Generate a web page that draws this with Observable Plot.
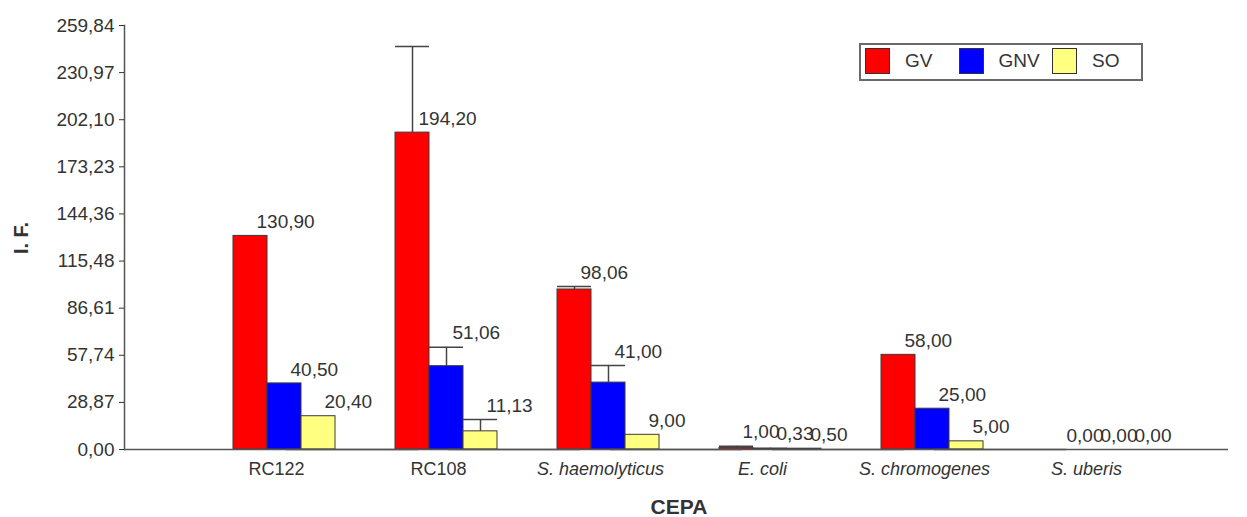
<!DOCTYPE html>
<html>
<head>
<meta charset="utf-8">
<script src="https://cdn.jsdelivr.net/npm/d3@7"></script>
<script src="https://cdn.jsdelivr.net/npm/@observablehq/plot@0.6"></script>
<style>
  html, body { margin: 0; padding: 0; background: #fff; }
  #wrap { position: relative; width: 1247px; height: 517px; font-family: "Liberation Sans", Arial, sans-serif; color: #333; }
  #wrap svg { position: absolute; left: 0; top: 0; }
  .ylab { position: absolute; left: 21px; top: 238px; transform: translate(-50%, -50%) rotate(-90deg); font-weight: bold; font-size: 20px; white-space: nowrap; }
  .xlab { position: absolute; left: 679px; top: 507px; transform: translate(-50%, -50%); font-weight: bold; font-size: 21px; }
  .legend { position: absolute; left: 859px; top: 43px; width: 280px; height: 34px; border: 2px solid #6a6a6a; background: #fff; }
  .legend .item { position: absolute; top: 2px; height: 28px; display: flex; align-items: center; font-size: 19px; }
  .legend .sw { width: 25px; height: 26px; border: 1px solid #333; box-sizing: border-box; margin-right: 15px; }
</style>
</head>
<body>
<div id="wrap"></div>
<script>
// ---- data ----
const categories = ["RC122", "RC108", "S. haemolyticus", "E. coli", "S. chromogenes", "S. uberis"];
const italicCategories = ["S. haemolyticus", "E. coli", "S. chromogenes", "S. uberis"];
const series = ["GV", "GNV", "SO"];
const seriesColors = ["#ff0000", "#0000ff", "#ffff80"];
const valuesGV  = [130.90, 194.20, 98.06, 1.00, 58.00, 0.00];
const valuesGNV = [40.50, 51.06, 41.00, 0.33, 25.00, 0.00];
const valuesSO  = [20.40, 11.13, 9.00, 0.50, 5.00, 0.00];
const errorGV  = [0, 52.8, 1.8, 1.0, 0, 0];
const errorGNV = [0, 11.6, 10.5, 0.5, 0, 0];
const errorSO  = [0, 7.3, 0, 0, 0, 0];
const yTickLabels = ["0,00", "28,87", "57,74", "86,61", "115,48", "144,36", "173,23", "202,10", "230,97", "259,84"];
const yMax = 259.84;

// ---- build table ----
const valueTable = [valuesGV, valuesGNV, valuesSO];
const errorTable = [errorGV, errorGNV, errorSO];
const rows = categories.flatMap((c, i) => series.map((s, k) => ({
  cat: c, series: s, value: valueTable[k][i], err: errorTable[k][i]
})));
const errRows = rows.filter(d => d.err > 0);
const tickValues = yTickLabels.map(t => +t.replace(",", "."));
const tickMap = new Map(tickValues.map((v, i) => [v, yTickLabels[i]]));
const fmt = v => d3.format(".2f")(v).replace(".", ",");

const font = "Liberation Sans, Arial, sans-serif";
const ink = "#333";
const axisInk = "#555";

const chart = Plot.plot({
  width: 1247,
  height: 517,
  marginLeft: 202,
  marginRight: 72,
  marginTop: 25,
  marginBottom: 68,
  style: { fontFamily: font, color: ink, background: "transparent" },
  fx: { domain: categories, padding: 0, axis: null },
  x: { domain: series, paddingInner: 0, paddingOuter: 0.85, axis: null },
  y: { domain: [0, yMax] },
  color: { domain: series, range: seriesColors },
  marks: [
    Plot.barY(rows, { fx: "cat", x: "series", y1: 0, y2: "value", fill: "series", stroke: "#3a3a3a", strokeWidth: 1 }),
    Plot.ruleY([0], { stroke: axisInk, strokeWidth: 1.5, insetLeft: -79, insetRight: -53 }),
    Plot.frame({ anchor: "left", facetAnchor: "left", insetLeft: -79, stroke: axisInk, strokeWidth: 1.5 }),
    Plot.axisY(tickValues, {
      tickFormat: d => tickMap.get(d), tickSize: 5, tickPadding: 5, dx: -79,
      fontSize: 19, color: ink, label: null
    }),
    Plot.ruleX(errRows, { fx: "cat", x: "series", y1: "value", y2: d => d.value + d.err, stroke: "#444", strokeWidth: 1.5 }),
    Plot.tickY(errRows, { fx: "cat", x: "series", y: d => d.value + d.err, stroke: "#444", strokeWidth: 1.5 }),
    Plot.text(rows, {
      fx: "cat", x: "series", y: d => d.value + (d.err <= 15 ? d.err : 0),
      text: d => fmt(d.value), textAnchor: "start", dx: 6, dy: -14, fontSize: 19, fill: ink
    }),
    Plot.text(categories.filter(c => !italicCategories.includes(c)), {
      fx: d => d, text: d => d, frameAnchor: "bottom", dy: 25, dx: -8, fontSize: 18, fill: ink
    }),
    Plot.text(italicCategories, {
      fx: d => d, text: d => d, frameAnchor: "bottom", dy: 25, dx: -8, fontSize: 18, fill: ink, fontStyle: "italic"
    })
  ]
});

const wrap = document.getElementById("wrap");
wrap.appendChild(chart);

const yl = document.createElement("div"); yl.className = "ylab"; yl.textContent = "I. F."; wrap.appendChild(yl);
const xl = document.createElement("div"); xl.className = "xlab"; xl.textContent = "CEPA"; wrap.appendChild(xl);

const legend = document.createElement("div"); legend.className = "legend";
series.forEach((s, k) => {
  const item = document.createElement("div"); item.className = "item";
  item.style.left = (4 + k * 93.5) + "px";
  const sw = document.createElement("div"); sw.className = "sw"; sw.style.background = seriesColors[k];
  const tx = document.createElement("span"); tx.textContent = s;
  item.appendChild(sw); item.appendChild(tx); legend.appendChild(item);
});
wrap.appendChild(legend);
</script>
</body>
</html>
